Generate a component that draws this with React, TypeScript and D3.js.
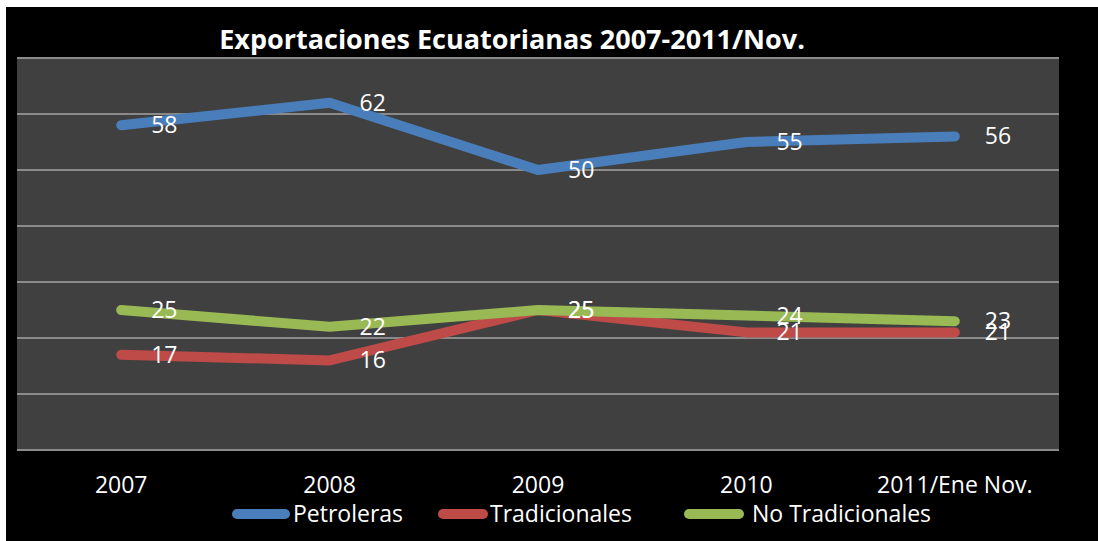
import React from "react";
import * as d3 from "d3";

const categories = ["2007", "2008", "2009", "2010", "2011/Ene Nov."];
const petroleras = [58, 62, 50, 55, 56];
const tradicionales = [17, 16, 25, 21, 21];
const noTradicionales = [25, 22, 25, 24, 23];
const seriesNames = ["Petroleras", "Tradicionales", "No Tradicionales"];
const seriesColors = ["#4a7ebb", "#be4b48", "#98b954"];
const gridTicks = [0, 10, 20, 30, 40, 50, 60, 70];

const W = 1098;
const H = 541;
const plot = { left: 17, right: 1059, top: 58, bottom: 450 };
const font = "'Open Sans', sans-serif";

export default function App() {
  const x = d3
    .scaleBand<string>()
    .domain(categories)
    .range([plot.left, plot.right]);
  const cx = (c: string) => (x(c) ?? 0) + x.bandwidth() / 2;
  const y = d3.scaleLinear().domain([0, 70]).range([plot.bottom, plot.top]);

  const line = d3
    .line<number>()
    .x((_, i) => cx(categories[i]))
    .y((d) => y(d));

  const series = [petroleras, tradicionales, noTradicionales];

  // legend items: swatch start/end, text start
  const legend = [
    { x1: 237, x2: 285, tx: 293 },
    { x1: 443, x2: 483, tx: 490 },
    { x1: 689, x2: 739, tx: 752 },
  ];

  return (
    <svg
      width={W}
      height={H}
      style={{ position: "absolute", left: 0, top: 0 }}
      fontFamily={font}
    >
      <rect x={0} y={0} width={W} height={H} fill="#ffffff" />
      <rect x={6} y={7} width={W - 6} height={H - 7} fill="#000000" />
      <rect
        x={plot.left}
        y={plot.top}
        width={plot.right - plot.left}
        height={plot.bottom - plot.top}
        fill="#404040"
      />
      {gridTicks.map((t) => (
        <line
          key={t}
          x1={plot.left}
          x2={plot.right}
          y1={y(t)}
          y2={y(t)}
          stroke="#8a8a8a"
          strokeWidth={2}
        />
      ))}

      <text
        x={512}
        y={49}
        textAnchor="middle"
        fill="#ffffff"
        fontWeight="bold"
        fontSize={27}
      >
        Exportaciones Ecuatorianas 2007-2011/Nov.
      </text>

      {series.map((s, i) => (
        <path
          key={seriesNames[i]}
          d={line(s) ?? ""}
          fill="none"
          stroke={seriesColors[i]}
          strokeWidth={10}
          strokeLinecap="round"
          strokeLinejoin="round"
        />
      ))}

      {series.map((s, i) =>
        s.map((v, j) => (
          <text
            key={seriesNames[i] + j}
            x={cx(categories[j]) + 30}
            y={y(v) + 8}
            fill="#ffffff"
            fontSize={23}
          >
            {v}
          </text>
        ))
      )}

      {categories.map((c) => (
        <text
          key={c}
          x={cx(c)}
          y={493}
          textAnchor="middle"
          fill="#ffffff"
          fontSize={23}
        >
          {c}
        </text>
      ))}

      {seriesNames.map((n, i) => (
        <g key={n}>
          <line
            x1={legend[i].x1}
            x2={legend[i].x2}
            y1={514}
            y2={514}
            stroke={seriesColors[i]}
            strokeWidth={10}
            strokeLinecap="round"
          />
          <text x={legend[i].tx} y={522} fill="#ffffff" fontSize={23}>
            {n}
          </text>
        </g>
      ))}
    </svg>
  );
}
